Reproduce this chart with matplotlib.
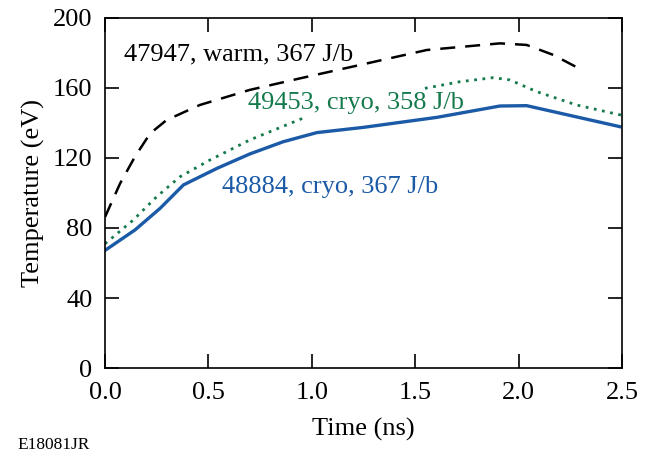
import numpy as np
import matplotlib
matplotlib.use("Agg")
import matplotlib.pyplot as plt

plt.rcParams['font.family'] = ['Liberation Serif', 'DejaVu Serif']

# shot 48884, cryo, 367 J/b (blue, solid)
t_blue = [0.0, 0.145, 0.266, 0.379, 0.54, 0.70, 0.862, 1.024, 1.25, 1.604, 1.91, 2.039, 2.49]
T_blue = [67.2, 78.9, 91.2, 104.6, 114, 122.3, 129.3, 134.5, 137.5, 143.2, 149.7, 149.9, 137.9]

# shot 49453, cryo, 358 J/b (green, dotted) -- broken where the label sits
t_green = [0.0, 0.137, 0.25, 0.363, 0.508, 0.70, 0.975, np.nan,
           1.547, 1.717, 1.878, 1.958, 2.088, 2.28, 2.5]
T_green = [71, 84.6, 97.9, 109.3, 118.9, 130.3, 143.6, np.nan,
           159.8, 163.6, 165.9, 164.6, 157.9, 150.3, 144.4]

# shot 47947, warm, 367 J/b (black, dashed)
t_black = [0.0, 0.073, 0.145, 0.218, 0.298, 0.459, 0.70, 0.943, 1.25,
           1.556, 1.91, 2.039, 2.168, 2.29]
T_black = [86.3, 105.5, 120.8, 134, 141.7, 150.3, 158.9, 165.5, 173.6,
           181.7, 185.5, 184.6, 178.9, 171.3]

xticks = [0.0, 0.5, 1.0, 1.5, 2.0, 2.5]
yticks = [0, 40, 80, 120, 160, 200]

blue = '#1a5aa6'
green = '#147a4c'

fig = plt.figure(figsize=(6.54, 4.54), dpi=100)
ax = fig.add_axes([0.1606, 0.1894, 0.7904, 0.771])

ax.plot(t_black, T_black, color='black', lw=1.8, dashes=(6, 4))
ax.plot(t_green, T_green, color=green, lw=2.0, linestyle=(0, (1, 2)))
ax.plot(t_blue, T_blue, color=blue, lw=2.4)

ax.text(0.09, 179, '47947, warm, 367 J/b', color='black', fontsize=19, va='center')
ax.text(0.69, 151.4, '49453, cryo, 358 J/b', color=green, fontsize=19, va='center')
ax.text(0.566, 103.4, '48884, cryo, 367 J/b', color=blue, fontsize=19, va='center')

ax.set_xlim(0, 2.5)
ax.set_ylim(0, 200)
ax.set_xticks(xticks)
ax.set_xticklabels(['%.1f' % v for v in xticks])
ax.set_yticks(yticks)
ax.tick_params(direction='in', length=10, width=1.2, labelsize=19,
               top=True, right=True)
ax.tick_params(axis='x', pad=10)
ax.tick_params(axis='y', pad=9)
for s in ax.spines.values():
    s.set_linewidth(1.2)

ax.set_xlabel('Time (ns)', fontsize=19, labelpad=10)
ax.set_ylabel('Temperature (eV)', fontsize=19, labelpad=6)

fig.text(0.027, 0.01, 'E18081JR', fontsize=12.5)

fig.savefig('out.png', dpi=100)
